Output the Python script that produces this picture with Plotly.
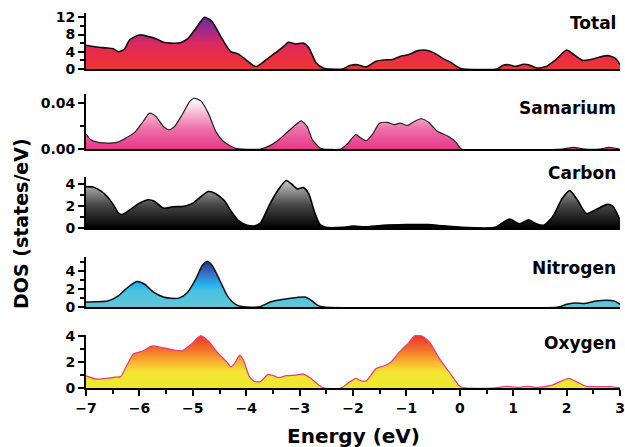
import plotly.graph_objects as go

# ---------------- data ----------------
tot_e = [-7.0,-6.80,-6.63,-6.49,-6.39,-6.28,-6.18,-6.0,-5.83,-5.69,-5.55,-5.41,-5.23,-5.09,-4.92,-4.78,-4.64,-4.47,-4.29,-4.15,-4.01,-3.87,-3.80,-3.66,-3.45,-3.32,-3.21,-3.07,-2.93,-2.83,-2.69,-2.55,-2.41,-2.20,-2.06,-1.92,-1.75,-1.57,-1.43,-1.26,-1.12,-0.94,-0.80,-0.66,-0.49,-0.31,-0.18,0.0,0.07,0.70,0.80,0.91,1.05,1.19,1.29,1.43,1.60,1.80,2.0,2.15,2.30,2.45,2.62,2.78,2.92,3.0]
tot_v = [5.5,5.1,4.9,4.7,4.0,4.6,6.8,7.9,7.5,7.0,6.2,6.0,6.1,7.1,9.8,12.0,11.0,7.4,4.0,3.5,2.2,0.8,0.6,1.8,3.8,5.0,6.2,5.8,6.0,5.0,1.4,0.2,0.0,0.0,0.8,1.0,0.5,1.8,2.1,2.2,2.9,3.4,4.2,4.4,3.8,2.4,1.6,0.2,0.0,0.0,0.8,1.0,0.6,1.1,1.0,0.3,0.5,2.2,4.4,3.2,2.0,2.2,2.8,3.1,2.4,1.0]

sm_e = [-7.0,-6.91,-6.77,-6.60,-6.42,-6.25,-6.07,-5.93,-5.81,-5.69,-5.55,-5.44,-5.34,-5.20,-5.06,-4.98,-4.85,-4.71,-4.57,-4.43,-4.22,-4.08,-3.73,-3.52,-3.39,-3.25,-3.07,-2.97,-2.86,-2.76,-2.62,-2.55,-2.23,-2.09,-1.95,-1.85,-1.75,-1.64,-1.50,-1.36,-1.22,-1.12,-0.98,-0.87,-0.73,-0.59,-0.42,-0.21,-0.07,0.03,1.92,2.13,2.34,2.62,2.79,3.0]
sm_v = [0.013,0.008,0.0058,0.0052,0.0058,0.0096,0.0154,0.024,0.0313,0.0284,0.0197,0.0168,0.0197,0.0299,0.0414,0.0443,0.042,0.0313,0.0154,0.0067,0.0009,0.0,0.0,0.0038,0.0081,0.0139,0.0212,0.0246,0.0197,0.0081,0.0009,0.0,0.0,0.0052,0.0125,0.0096,0.0072,0.0125,0.0226,0.0232,0.0212,0.0226,0.0206,0.0235,0.0264,0.0235,0.0154,0.011,0.0058,0.0,0.0,0.0014,0.0,0.0,0.0014,0.0]

c_e = [-7.0,-6.87,-6.73,-6.60,-6.49,-6.39,-6.32,-6.18,-6.0,-5.83,-5.72,-5.55,-5.37,-5.16,-4.99,-4.85,-4.71,-4.57,-4.40,-4.29,-4.15,-3.98,-3.84,-3.73,-3.56,-3.39,-3.25,-3.14,-3.04,-2.93,-2.83,-2.72,-2.62,-2.51,-2.20,-1.99,-1.78,-1.43,-1.01,-0.59,-0.31,0.03,0.66,0.80,0.93,1.12,1.29,1.43,1.57,1.74,1.92,2.06,2.20,2.37,2.55,2.76,2.86,3.0]
c_v = [3.75,3.72,3.39,2.83,2.14,1.36,1.22,1.64,2.25,2.56,2.42,1.8,1.92,1.97,2.28,2.83,3.3,3.11,2.42,1.58,0.69,0.25,0.19,0.47,2.14,3.53,4.3,3.94,3.53,3.67,3.11,1.44,0.33,0.06,0.06,0.17,0.11,0.25,0.31,0.31,0.19,0.06,0.06,0.47,0.8,0.39,0.75,0.39,0.25,1.03,2.69,3.39,2.56,1.31,1.67,2.14,2.0,0.75]

n_e = [-7.0,-6.8,-6.6,-6.4,-6.25,-6.05,-5.9,-5.75,-5.55,-5.4,-5.25,-5.1,-4.95,-4.82,-4.73,-4.64,-4.5,-4.35,-4.2,-4.05,-3.75,-3.55,-3.3,-3.05,-2.9,-2.8,-2.65,-2.55,1.85,2.0,2.15,2.35,2.55,2.75,2.9,3.0]
n_v = [0.55,0.57,0.65,1.2,2.0,2.8,2.5,1.7,1.1,0.95,1.0,1.6,3.0,4.6,5.0,4.6,3.0,1.2,0.3,0.02,0.02,0.55,0.85,1.05,1.1,0.8,0.15,0.0,0.0,0.3,0.45,0.4,0.65,0.75,0.65,0.3]

o_e = [-7.0,-6.80,-6.63,-6.46,-6.35,-6.25,-6.11,-5.93,-5.76,-5.58,-5.37,-5.20,-5.03,-4.85,-4.71,-4.54,-4.36,-4.29,-4.22,-4.12,-4.05,-3.94,-3.84,-3.73,-3.59,-3.49,-3.39,-3.25,-3.07,-2.93,-2.79,-2.65,-2.55,-2.23,-2.09,-1.95,-1.85,-1.75,-1.57,-1.43,-1.29,-1.15,-0.98,-0.84,-0.70,-0.56,-0.38,-0.18,0.0,0.10,0.66,0.87,1.08,1.26,1.46,1.71,1.88,2.04,2.20,2.37,2.62,2.83,3.0]
o_v = [0.93,0.68,0.75,0.83,0.88,1.63,2.63,2.88,3.25,3.13,2.95,2.88,3.38,4.05,3.63,2.75,2.0,1.63,1.88,2.55,2.13,0.88,0.5,0.5,1.05,0.95,0.8,0.95,1.0,1.08,0.75,0.25,0.0,0.0,0.38,0.75,0.55,0.55,1.5,1.7,2.0,2.7,3.38,4.05,4.0,3.5,2.25,1.13,0.13,0.0,0.0,0.13,0.05,0.13,0.05,0.2,0.5,0.75,0.45,0.13,0.1,0.1,0.0]

panel_names = ["Total", "Samarium", "Carbon", "Nitrogen", "Oxygen"]
x_ticks = [-7, -6, -5, -4, -3, -2, -1, 0, 1, 2, 3]

# ---------------- styling ----------------
FONT = "DejaVu Sans, Arial, sans-serif"
W, H = 625, 447
L, R, T, B = 86, 5, 0, 59
PH = H - T - B  # plot-area height in px


def dom(top_px, bot_px):
    return [(PH - bot_px) / PH, (PH - top_px) / PH]


panels = [
    dict(e=tot_e, v=tot_v, rng=[0, 13.1], dom=dom(12.5, 69), tv=[0, 4, 8, 12], tt=None, minor=[2, 6, 10],
         line="#111111", lw=1.6, stop=12.0,
         cs=[[0, "#ee3535"], [0.3, "#e82c48"], [0.5, "#dc2860"], [0.72, "#a42a86"], [1, "#6e2a96"]],
         lab_y=23),
    dict(e=sm_e, v=sm_v, rng=[0, 0.048], dom=dom(94, 149), tv=[0, 0.04], tt=["0.00", "0.04"], minor=[0.02],
         line="#222222", lw=1.2, stop=0.044,
         cs=[[0, "#e6378a"], [0.4, "#ee70a8"], [1, "#ffffff"]], lab_y=108),
    dict(e=c_e, v=c_v, rng=[0, 4.62], dom=dom(177, 228), tv=[0, 2, 4], tt=None, minor=[1, 3],
         line="#000000", lw=1.6, stop=4.3,
         cs=[[0, "#000000"], [0.5, "#4a4a4a"], [1, "#c8c8c8"]], lab_y=173),
    dict(e=n_e, v=n_v, rng=[0, 5.5], dom=dom(257, 307), tv=[0, 2, 4], tt=None, minor=[1, 3, 5],
         line="#111111", lw=1.5, stop=5.0,
         cs=[[0, "#5cc6d6"], [0.35, "#4cc2e2"], [0.5, "#22b2ee"], [0.7, "#3a78cc"], [1, "#26358a"]],
         lab_y=268),
    dict(e=o_e, v=o_v, rng=[0, 4.1], dom=dom(335, 388), tv=[0, 2, 4], tt=None, minor=[1, 3],
         line="#e8407c", lw=1.3, stop=4.05,
         cs=[[0, "#ece82c"], [0.3, "#f4e632"], [0.45, "#f8c030"], [0.7, "#f47a2c"], [1, "#ee3226"]],
         lab_y=343),
]

fig = go.Figure()
layout = dict(
    width=W, height=H,
    margin=dict(l=L, r=R, t=T, b=B, autoexpand=False),
    paper_bgcolor="white", plot_bgcolor="white",
    showlegend=False,
    font=dict(family=FONT, color="black"),
)

annotations = []
n = len(panels)
for i, p in enumerate(panels):
    k = "" if i == 0 else str(i + 1)
    fig.add_trace(go.Scatter(
        x=p["e"], y=p["v"], mode="lines",
        line=dict(color=p["line"], width=p["lw"], shape="spline", smoothing=0.6),
        fill="tozeroy",
        fillgradient=dict(type="vertical", start=0, stop=p["stop"], colorscale=p["cs"]),
        xaxis="x" + k, yaxis="y" + k, hoverinfo="skip",
    ))
    bottom = (i == n - 1)
    xa = dict(
        domain=[0, 1], range=[-7, 3], anchor="y" + k, automargin=False,
        showline=True, linecolor="black", linewidth=2,
        showgrid=False, zeroline=False,
        showticklabels=bottom,
        ticks="outside" if bottom else "",
        tickvals=x_ticks if bottom else None,
        ticklen=6, tickwidth=2, tickcolor="black",
        tickfont=dict(family=FONT, size=14, color="black", weight="bold"),
    )
    if bottom:
        xa["minor"] = dict(ticks="outside", tickvals=[x + 0.5 for x in x_ticks[:-1]],
                           ticklen=4, tickwidth=1.5, tickcolor="black")
    else:
        xa["matches"] = "x" + str(n)
    ya = dict(
        domain=p["dom"], range=p["rng"], anchor="x" + k, automargin=False,
        showline=True, linecolor="black", linewidth=2,
        showgrid=False, zeroline=False,
        ticks="outside", ticklen=6, tickwidth=2, tickcolor="black",
        tickvals=p["tv"],
        tickfont=dict(family=FONT, size=14, color="black", weight="bold"),
        minor=dict(ticks="outside", tickvals=p["minor"], ticklen=4, tickwidth=1.5, tickcolor="black"),
    )
    if p["tt"] is not None:
        ya["ticktext"] = p["tt"]
    layout["xaxis" + k] = xa
    layout["yaxis" + k] = ya
    annotations.append(dict(
        text=panel_names[i], xref="paper", yref="paper",
        x=(618 - L) / (W - L - R), y=(PH - p["lab_y"]) / PH,
        xanchor="right", yanchor="middle", showarrow=False,
        font=dict(family=FONT, size=17, color="black", weight="bold"),
    ))

annotations.append(dict(
    text="Energy (eV)", xref="paper", yref="paper",
    x=0.5, y=(PH - 436) / PH, xanchor="center", yanchor="middle", showarrow=False,
    font=dict(family=FONT, size=20, color="black", weight="bold"),
))
annotations.append(dict(
    text="DOS (states/eV)", xref="paper", yref="paper",
    x=(21 - L) / (W - L - R), y=(PH - 224) / PH, xanchor="center", yanchor="middle",
    textangle=-90, showarrow=False,
    font=dict(family=FONT, size=19, color="black", weight="bold"),
))
layout["annotations"] = annotations
fig.update_layout(**layout)
fig.write_html("out.html",
               config={"displayModeBar": False},
               post_script="document.body.style.margin='0px';document.body.style.padding='0px';")
